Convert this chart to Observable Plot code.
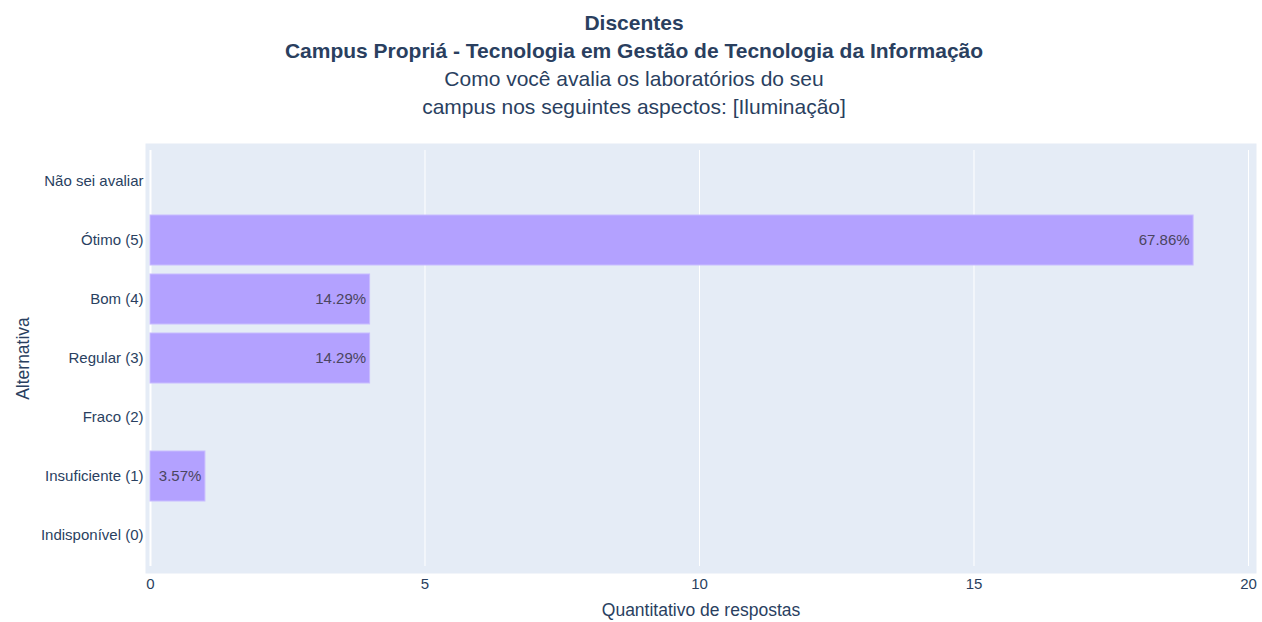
<!DOCTYPE html>
<html>
<head>
<meta charset="utf-8">
<script src="https://cdn.jsdelivr.net/npm/d3@7"></script>
<script src="https://cdn.jsdelivr.net/npm/@observablehq/plot@0.6"></script>
<style>
  html, body { margin: 0; padding: 0; background: #fff; }
  body { width: 1262px; height: 622px; overflow: hidden; font-family: "Liberation Sans", Arial, sans-serif; color: #2a3f5f; }
  #titles { height: 120px; text-align: center; padding-left: 6px; }
  #titles div { line-height: 28px; font-size: 21px; }
  #titles .t1 { padding-top: 9px; font-weight: bold; }
  #titles .b { font-weight: bold; }
  #chart svg { display: block; }
</style>
</head>
<body>
<div id="titles">
  <div class="t1">Discentes</div>
  <div class="b">Campus Propriá - Tecnologia em Gestão de Tecnologia da Informação</div>
  <div>Como você avalia os laboratórios do seu</div>
  <div>campus nos seguintes aspectos: [Iluminação]</div>
</div>
<div id="chart"></div>
<script>
const categories = ["Não sei avaliar", "Ótimo (5)", "Bom (4)", "Regular (3)", "Fraco (2)", "Insuficiente (1)", "Indisponível (0)"];
const counts = [0, 19, 4, 4, 0, 1, 0];
const percentLabels = ["", "67.86%", "14.29%", "14.29%", "", "3.57%", ""];
const xTicks = [0, 5, 10, 15, 20];

const data = categories.map((c, i) => ({ cat: c, n: counts[i], label: percentLabels[i] }));
const bars = data.filter(d => d.n > 0);

const plot = Plot.plot({
  width: 1262,
  height: 502,
  marginTop: 23,
  marginBottom: 49,
  marginLeft: 145,
  marginRight: 6,
  style: { fontFamily: "'Liberation Sans', Arial, sans-serif", fontSize: "15px", color: "#2a3f5f", background: "#fff" },
  x: { domain: [-0.091, 20.146], ticks: xTicks, tickSize: 0, label: null },
  y: { domain: categories, range: [30, 446], paddingInner: 0.16, paddingOuter: 0.08, tickSize: 0, label: null },
  marks: [
    Plot.frame({ fill: "#e5ecf6", stroke: null }),
    Plot.ruleX(xTicks, { stroke: "#fff", strokeWidth: 1, insetTop: 7, insetBottom: 7 }),
    Plot.ruleX([0], { stroke: "#fff", strokeWidth: 2, insetTop: 7, insetBottom: 7 }),
    Plot.barX(bars, { x: "n", y: "cat", fill: "#b3a1ff", stroke: "#c8bcff", strokeWidth: 1 }),
    Plot.text(bars, { x: "n", y: "cat", text: "label", textAnchor: "end", dx: -4, fill: "#4a4560", fontSize: 15 }),
    Plot.axisX({ ticks: xTicks, tickSize: 0, tickPadding: 5, fontSize: 15, label: null }),
    Plot.axisY({ tickSize: 0, tickPadding: 2, fontSize: 15, label: null }),
    Plot.text(["Quantitativo de respostas"], { frameAnchor: "bottom", dy: 42, fontSize: 17.5, fill: "#2a3f5f" }),
    Plot.text(["Alternativa"], { frameAnchor: "left", textAnchor: "middle", dx: -122, rotate: -90, fontSize: 17.5, fill: "#2a3f5f" })
  ]
});
document.getElementById("chart").appendChild(plot);
</script>
</body>
</html>
